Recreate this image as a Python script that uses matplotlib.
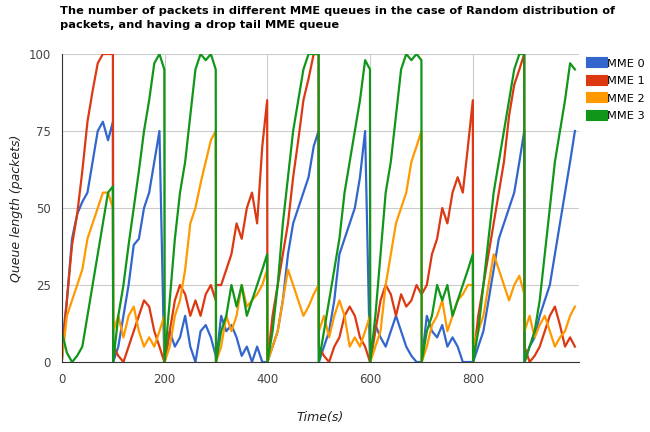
import matplotlib
matplotlib.use('Agg')
import matplotlib.pyplot as plt
import numpy as np

# values read per 100 s segment, at offsets 0,10,...,90,99.5 s
offsets = [0, 10, 20, 30, 40, 50, 60, 70, 80, 90, 99.5]

mme0 = [
    [5, 20, 40, 48, 52, 55, 65, 75, 78, 72, 78],
    [0, 5, 15, 25, 38, 40, 50, 55, 65, 75, 0],
    [0, 10, 5, 8, 15, 5, 0, 10, 12, 8, 2],
    [0, 15, 10, 12, 8, 2, 5, 0, 5, 0, 0],
    [0, 5, 10, 20, 35, 45, 50, 55, 60, 70, 75],
    [0, 5, 10, 20, 35, 40, 45, 50, 60, 75, 0],
    [0, 12, 8, 5, 10, 15, 10, 5, 2, 0, 0],
    [0, 15, 10, 8, 12, 5, 8, 5, 0, 0, 0],
    [0, 5, 10, 20, 30, 40, 45, 50, 55, 65, 75],
    [0, 5, 8, 15, 20, 25, 35, 45, 55, 65, 75],
]
mme1 = [
    [0, 20, 38, 48, 62, 78, 88, 97, 100, 100, 100],
    [5, 2, 0, 5, 10, 15, 20, 18, 10, 5, 0],
    [0, 10, 20, 25, 22, 15, 20, 15, 22, 25, 20],
    [25, 25, 30, 35, 45, 40, 50, 55, 45, 70, 85],
    [0, 15, 25, 35, 45, 60, 72, 85, 92, 100, 100],
    [5, 2, 0, 5, 8, 15, 18, 15, 8, 5, 0],
    [0, 10, 20, 25, 22, 15, 22, 18, 20, 25, 22],
    [22, 25, 35, 40, 50, 45, 55, 60, 55, 70, 85],
    [0, 15, 25, 35, 45, 55, 65, 80, 90, 95, 100],
    [5, 0, 2, 5, 10, 15, 18, 12, 5, 8, 5],
]
mme2 = [
    [0, 15, 20, 25, 30, 40, 45, 50, 55, 55, 50],
    [10, 15, 8, 15, 18, 10, 5, 8, 5, 10, 15],
    [0, 5, 15, 20, 30, 45, 50, 58, 65, 72, 75],
    [0, 5, 15, 10, 15, 25, 18, 20, 22, 25, 30],
    [0, 5, 10, 20, 30, 25, 20, 15, 18, 22, 25],
    [10, 15, 8, 15, 20, 15, 5, 8, 5, 10, 15],
    [0, 5, 10, 25, 35, 45, 50, 55, 65, 70, 75],
    [0, 5, 12, 15, 20, 10, 15, 20, 22, 25, 25],
    [5, 10, 15, 25, 35, 30, 25, 20, 25, 28, 22],
    [10, 15, 8, 12, 15, 10, 5, 8, 10, 15, 18],
]
mme3 = [
    [10, 3, 0, 2, 5, 15, 25, 35, 45, 55, 57],
    [0, 15, 25, 38, 50, 62, 75, 85, 97, 100, 95],
    [0, 20, 40, 55, 65, 80, 95, 100, 98, 100, 95],
    [0, 10, 15, 25, 18, 25, 15, 20, 25, 30, 35],
    [0, 10, 25, 45, 60, 75, 85, 95, 100, 100, 100],
    [0, 10, 20, 30, 40, 55, 65, 75, 85, 98, 95],
    [0, 15, 35, 55, 65, 80, 95, 100, 98, 100, 98],
    [0, 10, 15, 25, 20, 25, 15, 20, 25, 30, 35],
    [0, 10, 25, 40, 55, 65, 75, 85, 95, 100, 100],
    [0, 5, 10, 20, 35, 50, 65, 75, 85, 97, 95],
]

series = [('MME 0', mme0, '#3366cc'), ('MME 1', mme1, '#dc3912'),
          ('MME 2', mme2, '#ff9900'), ('MME 3', mme3, '#109618')]

fig = plt.figure(figsize=(6.5, 4.32), dpi=100)
ax = fig.add_axes([0.095, 0.162, 0.795, 0.713])

for name, segs, color in series:
    t = np.concatenate([np.array(offsets) * (0.985 if k == 9 else 1) + 100 * k
                        for k in range(len(segs))])
    y = np.concatenate(segs)
    ax.plot(t, y, color=color, lw=1.6, label=name)

ax.set_xlim(0, 1005)
ax.set_ylim(0, 100)
ax.set_xticks([0, 200, 400, 600, 800])
ax.set_yticks([0, 25, 50, 75, 100])
ax.grid(True, color='#cccccc', lw=0.8)
ax.set_axisbelow(True)
for s in ['top', 'right']:
    ax.spines[s].set_visible(False)
for s in ['left', 'bottom']:
    ax.spines[s].set_color('#333333')
ax.tick_params(length=0, labelsize=8.5, colors='#444444', pad=8)
ax.set_ylabel('Queue length (packets)', style='italic', fontsize=9, color='#222222')
ax.set_xlabel('Time(s)', style='italic', fontsize=9, color='#222222', labelpad=18)

fig.text(0.092, 0.985, 'The number of packets in different MME queues in the case of Random distribution of\npackets, and having a drop tail MME queue',
         fontsize=8.2, fontweight='bold', va='top', ha='left', linespacing=1.5)

leg = ax.legend(loc='upper left', bbox_to_anchor=(1.005, 1.02), frameon=False,
                fontsize=8.2, handlelength=0.9, handleheight=0.9, labelspacing=0.6,
                handletextpad=0.5)
for h in leg.legend_handles:
    h.set_linewidth(8)

fig.savefig('out.png', dpi=100)
